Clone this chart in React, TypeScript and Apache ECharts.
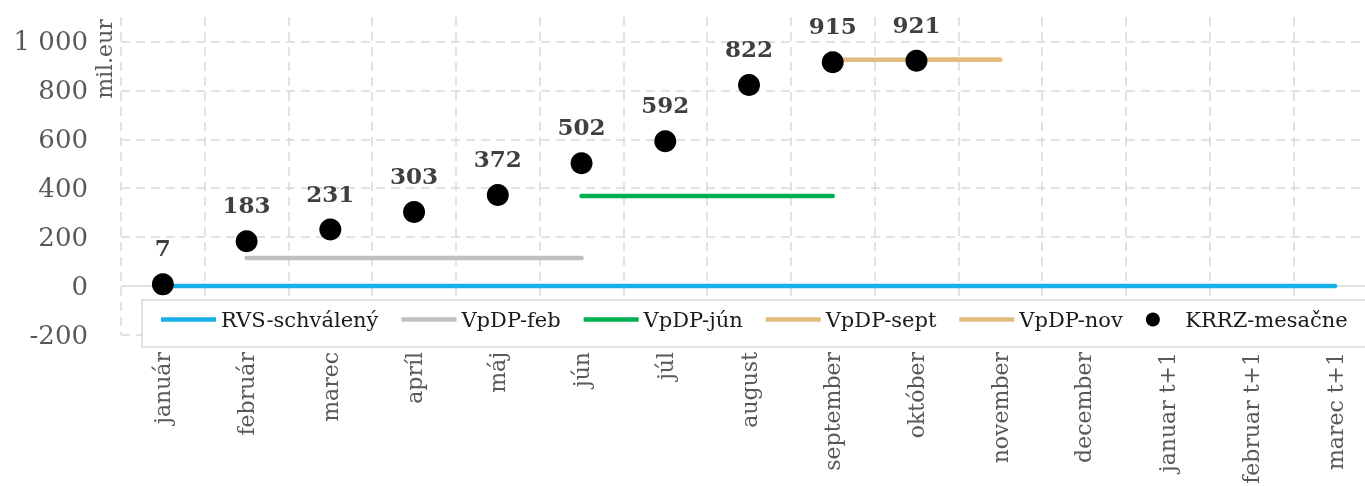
import React, { useEffect, useRef } from "react";
import * as echarts from "echarts";

const months = ["január", "február", "marec", "apríl", "máj", "jún", "júl", "august", "september", "október", "november", "december", "januar t+1", "februar t+1", "marec t+1"];
const yTicks = [-200, 0, 200, 400, 600, 800, 1000];
const rvsSchvaleny = [0, 0, 0, 0, 0, 0, 0, 0, 0, 0, 0, 0, 0, 0, 0];
const vpdpFeb = [null, 115, 115, 115, 115, 115, null, null, null, null, null, null, null, null, null];
const vpdpJun = [null, null, null, null, null, 368, 368, 368, 368, null, null, null, null, null, null];
const vpdpSept = [null, null, null, null, null, null, null, null, 925, 925, 925, null, null, null, null];
const vpdpNov = [null, null, null, null, null, null, null, null, null, 925, 925, null, null, null, null];
const krrzMesacne = [7, 183, 231, 303, 372, 502, 592, 822, 915, 921];

const SERIF = "DejaVu Serif";
const LINE_ICON = "path://M0,0M55,14M0,4.75L55,4.75L55,9.25L0,9.25Z";

export default function App() {
  const ref = useRef<HTMLDivElement>(null);
  useEffect(() => {
    const chart = echarts.init(ref.current!, undefined, { renderer: "svg" });
    const lineSeries = (name: string, data: (number | null)[], color: string) => ({
      name,
      type: "line",
      data,
      symbol: "none",
      z: 3,
      lineStyle: { color, width: 4.5, cap: "round" },
      itemStyle: { color },
      connectNulls: false,
    });
    chart.setOption({
      animation: false,
      grid: { left: 121, right: 3, top: 17, bottom: 151, containLabel: false, outerBoundsMode: "none" },
      legend: {
        left: 142,
        top: 309,
        padding: [0, 5, 0, 19],
        itemGap: 23,
        itemWidth: 55,
        itemHeight: 14,
        textStyle: { fontFamily: SERIF, fontSize: 21, color: "#1a1a1a" },
        data: [
          { name: "RVS-schválený", icon: LINE_ICON },
          { name: "VpDP-feb", icon: LINE_ICON },
          { name: "VpDP-jún", icon: LINE_ICON },
          { name: "VpDP-sept", icon: LINE_ICON },
          { name: "VpDP-nov", icon: LINE_ICON },
          { name: "KRRZ-mesačne", icon: "circle" },
        ],
        z: 10,
      },
      xAxis: {
        type: "category",
        data: months,
        boundaryGap: true,
        axisLine: { show: false },
        axisTick: { show: false },
        axisLabel: {
          interval: 0,
          rotate: 90,
          margin: 17,
          fontFamily: SERIF,
          fontSize: 22,
          color: "#595959",
        },
        splitLine: {
          show: true,
          interval: 0,
          lineStyle: { color: "#d9d9d9", width: 1.5, type: [9, 6] },
        },
      },
      yAxis: {
        type: "value",
        min: -200,
        max: 1100,
        interval: 200,
        axisLine: { show: false },
        axisTick: { show: false },
        splitLine: { show: false },
        axisLabel: {
          margin: 33,
          fontFamily: SERIF,
          fontSize: 26,
          color: "#595959",
          formatter: (v: number) =>
            v > 1000 ? "" : v >= 1000 ? String(v).replace(/\B(?=(\d{3})+(?!\d))/g, " ") : String(v),
        },
      },
      graphic: [
        {
          type: "text",
          x: 104,
          y: 59,
          rotation: Math.PI / 2,
          style: {
            text: "mil.eur",
            fontFamily: SERIF,
            fontSize: 22,
            fill: "#595959",
            align: "center",
            verticalAlign: "middle",
          },
        },
        {
          type: "rect",
          z: 8,
          shape: { x: 142, y: 300, width: 1300, height: 47 },
          style: { fill: "#ffffff", stroke: "#d9d9d9", lineWidth: 1.5 },
        },
      ],
      series: [
        {
          name: "grid",
          type: "line",
          data: months.map(() => null),
          z: 0,
          silent: true,
          markLine: {
            silent: true,
            z: 1,
            symbol: ["none", "none"],
            label: { show: false },
            animation: false,
            data: [
              ...yTicks.filter((v) => v !== 0).map((v) => ({
                yAxis: v,
                lineStyle: { color: "#d9d9d9", width: 1.5, type: [9, 6] },
              })),
              { yAxis: 0, lineStyle: { color: "#d9d9d9", width: 1.5, type: "solid" } },
            ],
          },
        },
        lineSeries("RVS-schválený", rvsSchvaleny, "#17b0e8"),
        lineSeries("VpDP-feb", vpdpFeb, "#bfbfbf"),
        lineSeries("VpDP-jún", vpdpJun, "#00b050"),
        lineSeries("VpDP-sept", vpdpSept, "#e2bc7e"),
        lineSeries("VpDP-nov", vpdpNov, "#e2bc7e"),
        {
          name: "KRRZ-mesačne",
          type: "scatter",
          data: krrzMesacne,
          symbol: "circle",
          symbolSize: 22,
          z: 5,
          itemStyle: { color: "#000000", opacity: 1 },
          label: {
            show: true,
            position: "top",
            distance: 14,
            fontFamily: SERIF,
            fontWeight: "bold",
            fontSize: 23,
            color: "#404040",
          },
        },
      ],
    });
    return () => chart.dispose();
  }, []);
  return (
    <div style={{ position: "fixed", left: 0, top: 0, width: 1365, height: 486, overflow: "hidden" }}>
      <div ref={ref} style={{ width: 1380, height: 486 }} />
    </div>
  );
}
